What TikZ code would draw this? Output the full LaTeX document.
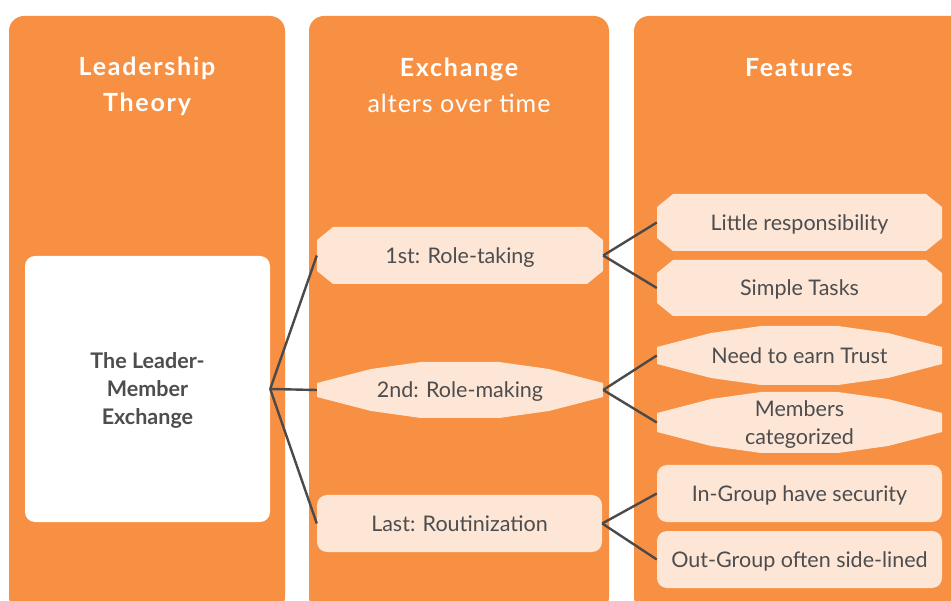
\documentclass[tikz,border=0pt]{standalone}
\usepackage{fontspec}
\setmainfont{Lato}
\usetikzlibrary{calc}
\definecolor{orangec}{HTML}{F79042}
\definecolor{lightc}{HTML}{FDE6D5}
\definecolor{textc}{HTML}{4D4D4F}
\definecolor{linec}{HTML}{4A4A4A}
\tikzset{
  column/.style={fill=orangec, rounded corners=15pt},
  titletext/.style={text=white, anchor=base, inner sep=0pt,
    font=\bfseries\fontsize{25}{34}\selectfont\addfontfeature{LetterSpace=7}},
  subtitletext/.style={text=white, anchor=base, inner sep=0pt,
    font=\fontsize{25}{34}\selectfont\addfontfeature{LetterSpace=4}},
  box/.style={rectangle, inner sep=0pt, minimum width=285pt, minimum height=57pt,
    text height=15.5pt, text depth=0pt,
    text=textc, font=\fontsize{21.5}{28}\selectfont, align=center},
  roundbox/.style={box, fill=lightc, rounded corners=10pt},
  octbox/.style={box, path picture={\fill[lightc] let \p1=(path picture bounding box.south west),
      \p2=(path picture bounding box.north east) in
      (\x1,\y1+13pt) -- (\x1+16pt,\y1) -- (\x2-16pt,\y1) -- (\x2,\y1+13pt) --
      (\x2,\y2-13pt) -- (\x2-16pt,\y2) -- (\x1+16pt,\y2) -- (\x1,\y2-13pt) -- cycle;}},
  wavebox/.style={box, path picture={\fill[lightc] let \p1=(path picture bounding box.south west),
      \p2=(path picture bounding box.north east) in
      (\x1,\y1+21pt) -- (\x1+54pt,\y1+7pt) -- (\x1+104pt,\y1) -- (\x2-104pt,\y1) --
      (\x2-54pt,\y1+7pt) -- (\x2,\y1+21pt) -- (\x2,\y2-21pt) -- (\x2-54pt,\y2-7pt) --
      (\x2-104pt,\y2) -- (\x1+104pt,\y2) -- (\x1+54pt,\y2-7pt) -- (\x1,\y2-21pt) -- cycle;}},
  conn/.style={draw=linec, line width=2.4pt},
}
\begin{document}
\begin{tikzpicture}[x=1pt,y=-1pt]
\useasboundingbox (0,0) rectangle (951,601);
\fill[white] (0,0) rectangle (951,601);
% columns
\fill[column] (9,16) rectangle (285,612);
\fill[column] (309,16) rectangle (609,612);
\fill[column] (634,16) rectangle (970,612);
% titles
\node[titletext] (t1a) at (147,76) {Leadership};
\node[titletext] (t1b) at (147,112) {Theory};
\node[titletext] (t2a) at (459,77) {Exchange};
\node[subtitletext] (t2b) at (459,113) {alters over time};
\node[titletext] (t3) at (799,77) {Features};
% leader member exchange box
\node[rectangle, fill=white, rounded corners=10pt, minimum width=245pt, minimum height=266pt,
  inner sep=0pt, text height=71.5pt, text depth=0pt, text=textc,
  font=\bfseries\fontsize{21.5}{28}\selectfont, align=center]
  (lmx) at (147.5,389) {The Leader-\\Member\\Exchange};
% stages
\node[octbox, minimum width=286pt] (r1) at (460,255.5) {1st: Role-taking};
\node[wavebox, minimum width=286pt, minimum height=56pt] (r2) at (460,390) {2nd: Role-making};
\node[roundbox] (r3) at (459.5,523.5) {Last: Routinization};
% features
\node[octbox] (f1) at (799.5,222.5) {Little responsibility};
\node[octbox, minimum height=56pt] (f2) at (799.5,288) {Simple Tasks};
\node[wavebox, minimum height=59pt] (f3) at (799.5,355.5) {Need to earn Trust};
\node[wavebox, minimum height=61pt, text height=43.5pt] (f4) at (799.5,422.5) {Members\\categorized};
\node[roundbox] (f5) at (799.5,493.5) {In-Group have security};
\node[roundbox] (f6) at (799.5,559.5) {Out-Group often side-lined};
% connectors
\draw[conn] (lmx.east) -- (r1.west);
\draw[conn] (lmx.east) -- (r2.west);
\draw[conn] (lmx.east) -- (r3.west);
\draw[conn] (r1.east) -- (f1.west);
\draw[conn] (r1.east) -- (f2.west);
\draw[conn] (r2.east) -- (f3.west);
\draw[conn] (r2.east) -- (f4.west);
\draw[conn] (r3.east) -- (f5.west);
\draw[conn] (r3.east) -- (f6.west);
\end{tikzpicture}
\end{document}
